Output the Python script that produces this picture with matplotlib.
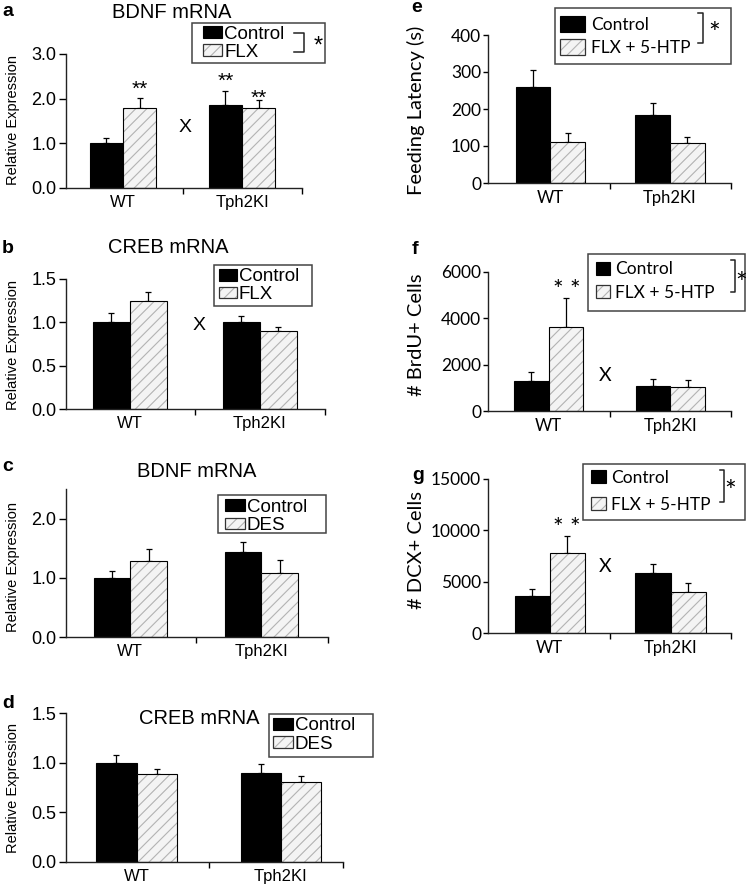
import matplotlib
matplotlib.use('Agg')
import matplotlib.pyplot as plt
import numpy as np
from matplotlib.patches import Patch, Rectangle
from matplotlib.lines import Line2D
from matplotlib.legend_handler import HandlerTuple

W, H = 746, 889
plt.rcParams['hatch.linewidth'] = 0.8
fig = plt.figure(figsize=(W / 100, H / 100), dpi=100)

# ---------------- data ----------------
groups = ['WT', 'Tph2KI']

a_ctrl = [1.00, 1.86]; a_ctrl_err = [0.12, 0.32]
a_trt = [1.80, 1.80]; a_trt_err = [0.21, 0.17]
b_ctrl = [1.00, 1.00]; b_ctrl_err = [0.11, 0.07]
b_trt = [1.25, 0.90]; b_trt_err = [0.10, 0.05]
c_ctrl = [1.00, 1.44]; c_ctrl_err = [0.11, 0.16]
c_trt = [1.28, 1.08]; c_trt_err = [0.20, 0.22]
d_ctrl = [1.00, 0.90]; d_ctrl_err = [0.08, 0.09]
d_trt = [0.89, 0.81]; d_trt_err = [0.05, 0.06]
e_ctrl = [259, 184]; e_ctrl_err = [46, 32]
e_trt = [111, 108]; e_trt_err = [24, 16]
f_ctrl = [1310, 1090]; f_ctrl_err = [370, 310]
f_trt = [3620, 1050]; f_trt_err = [1250, 300]
g_ctrl = [3630, 5810]; g_ctrl_err = [650, 910]
g_trt = [7820, 3960]; g_trt_err = [1660, 880]

flx_labels = ['Control', 'FLX']
des_labels = ['Control', 'DES']
htp_labels = ['Control', 'FLX + 5-HTP']

a_yticks = [0.0, 1.0, 2.0, 3.0]
b_yticks = [0.0, 0.5, 1.0, 1.5]
c_yticks = [0.0, 1.0, 2.0]
d_yticks = [0.0, 0.5, 1.0, 1.5]
e_yticks = [0, 100, 200, 300, 400]
f_yticks = [0, 2000, 4000, 6000]
g_yticks = [0, 5000, 10000, 15000]

LEFT_FONT = 'Liberation Sans'
RIGHT_FONT = 'Lato'


def px(x, y):
    return (x / W, 1 - y / H)


def draw_panel(cfg):
    L, R, T, B = cfg['box']
    ax = fig.add_axes([L / W, 1 - B / H, (R - L) / W, (B - T) / H])
    font = cfg['font']
    w = cfg['w']
    x = np.arange(len(groups))
    ctrl, cerr, trt, terr = cfg['data']
    zeros = np.zeros(len(groups))
    ekw = dict(fmt='none', ecolor='black', elinewidth=0.9, capsize=2.5, capthick=0.9)
    ax.bar(x - w / 2, ctrl, w, color='black', edgecolor='black', lw=0.8, zorder=2)
    ax.errorbar(x - w / 2, ctrl, yerr=[zeros, cerr], zorder=1, **ekw)
    ax.bar(x + w / 2, trt, w, color='#f4f4f4', edgecolor='#b3b3b3', hatch='///', lw=0, zorder=2)
    ax.bar(x + w / 2, trt, w, fill=False, edgecolor='black', lw=0.8, zorder=3)
    ax.errorbar(x + w / 2, trt, yerr=[zeros, terr], zorder=1, **ekw)

    ax.set_xlim(*cfg['xlim'])
    ax.set_ylim(0, cfg['ymax'])
    ax.set_yticks(cfg['yticks'])
    ax.set_yticklabels([cfg['yfmt'].format(v) for v in cfg['yticks']],
                       fontfamily=font, fontsize=cfg['tickfs'])
    ax.set_xticks([0.5, cfg['xlim'][1]])
    ax.set_xticklabels(['', ''])
    ax.set_xticks(x, minor=True)
    ax.set_xticklabels(groups, minor=True, fontfamily=font, fontsize=cfg['xfs'])
    ax.tick_params(axis='x', which='minor', length=0, pad=cfg['xpad'])
    ax.tick_params(axis='x', which='major', length=4, width=1.0, direction='out')
    ax.tick_params(axis='y', length=cfg['ytl'], width=1.0, direction='out', pad=cfg['ypad'])
    for s in ['top', 'right']:
        ax.spines[s].set_visible(False)
    for s in ['left', 'bottom']:
        ax.spines[s].set_linewidth(1.0)
        ax.spines[s].set_color('#222222')

    # y label
    ylx, yly = cfg['ylabel_px']
    ax.set_ylabel(cfg['ylabel'], fontfamily=font, fontsize=cfg['ylfs'])
    ax.yaxis.set_label_coords((ylx - L) / (R - L), (B - yly) / (B - T))
    ax.yaxis.label.set_verticalalignment('center')

    # title
    if cfg.get('title'):
        tx, ty = cfg['title_px']
        ax.set_title(cfg['title'], x=(tx - L) / (R - L), y=(B - ty) / (B - T), pad=0,
                     va='center', fontfamily=font, fontsize=14.5)

    # panel letter
    lx, ly = cfg['letter_px']
    fig.text(*px(lx, ly), cfg['letter'], fontfamily=LEFT_FONT, fontweight='bold',
             fontsize=14, ha='left', va='center')

    # annotations
    for (xa, ya, s, fs) in cfg.get('annot', []):
        ax.text(xa, ya, s, ha='center', va='top', fontfamily=font, fontsize=fs)

    # legend
    lg = cfg['legend']
    fs_px = lg['fs'] * 100 / 72
    h_ctrl = Patch(facecolor='black', edgecolor='black', lw=0.8)
    h_trt = (Patch(facecolor='#f4f4f4', edgecolor='#b3b3b3', hatch='///', lw=0),
             Patch(facecolor='none', edgecolor='#333333', lw=0.9))
    r1, r2 = lg['rows']
    text_h = lg['lh'] * fs_px
    spacing = max(0.02, ((r2 - r1) - max(text_h, lg['hh'])) / fs_px)
    ax.legend([h_ctrl, h_trt], cfg['labels'], loc='center left',
              bbox_to_anchor=px(lg['hx'], (r1 + r2) / 2), bbox_transform=fig.transFigure,
              frameon=False, borderpad=0, borderaxespad=0,
              handlelength=lg['hw'] / fs_px, handleheight=lg['hh'] / fs_px,
              handletextpad=lg['pad'] / fs_px,
              labelspacing=spacing,
              prop=dict(family=font, size=lg['fs']),
              handler_map={tuple: HandlerTuple(ndivide=1, pad=0)})
    bl, br, bt, bb = lg['frame']
    fig.add_artist(Rectangle(px(bl, bb), (br - bl) / W, (bb - bt) / H, transform=fig.transFigure,
                             fill=False, ec='#444444', lw=1.1))
    if lg.get('bracket'):
        bx, by1, by2, bxl, sx, sy = lg['bracket']
        xs = [bxl, bx, bx, bxl]
        ys = [by1, by1, by2, by2]
        fig.add_artist(Line2D([v / W for v in xs], [1 - v / H for v in ys],
                              transform=fig.transFigure, color='#222222', lw=1.1))
        fig.text(*px(sx, sy), '*', fontfamily=font, fontsize=lg.get('starfs', 17),
                 ha='center', va='center')
    return ax


left_common = dict(font=LEFT_FONT, tickfs=13, xfs=12, xpad=5, ytl=5, ypad=2,
                   ylabel='Relative Expression', ylfs=10.5, yfmt='{:.1f}')
right_common = dict(font=RIGHT_FONT, tickfs=12.5, xfs=12, xpad=5, ytl=3.5, ypad=1.5,
                    ylfs=14.5, yfmt='{:d}', labels=htp_labels)

panels = [
    dict(left_common, letter='a', letter_px=(2, 11), box=(66, 302, 54, 188), w=0.28,
         xlim=(-0.479, 1.504), ymax=3.0, yticks=a_yticks,
         data=(a_ctrl, a_ctrl_err, a_trt, a_trt_err), labels=flx_labels,
         title='BDNF mRNA', title_px=(172, 13), ylabel_px=(13, 120),
         annot=[(0.14, 2.42, '**', 15), (0.86, 2.60, '**', 15), (1.14, 2.23, '**', 15),
                (0.52, 1.55, 'X', 14)],
         legend=dict(fs=13.5, lh=0.95, hx=203, rows=(34, 52.5), hw=19, hh=11, pad=2,
                     frame=(192, 325, 23, 63), bracket=(304, 33, 52, 294, 318, 47))),
    dict(left_common, letter='b', letter_px=(2, 248), box=(66, 325, 279, 409), w=0.285,
         xlim=(-0.49, 1.5), ymax=1.5, yticks=b_yticks,
         data=(b_ctrl, b_ctrl_err, b_trt, b_trt_err), labels=flx_labels,
         title='CREB mRNA', title_px=(168, 248), ylabel_px=(13, 345),
         annot=[(0.53, 1.06, 'X', 14)],
         legend=dict(fs=13.5, lh=0.95, hx=219, rows=(276.5, 295), hw=18, hh=11, pad=2,
                     frame=(214, 312, 265, 306))),
    dict(left_common, letter='c', letter_px=(2, 466), box=(66, 328, 489, 637), w=0.28,
         xlim=(-0.49, 1.51), ymax=2.5, yticks=c_yticks,
         data=(c_ctrl, c_ctrl_err, c_trt, c_trt_err), labels=des_labels,
         title='BDNF mRNA', title_px=(197, 472), ylabel_px=(13, 567),
         legend=dict(fs=13.5, lh=0.95, hx=225, rows=(507, 526), hw=20, hh=11, pad=2,
                     frame=(218, 326, 495, 533))),
    dict(left_common, letter='d', letter_px=(2, 703), box=(66, 343, 713, 862), w=0.28,
         xlim=(-0.49, 1.43), ymax=1.5, yticks=d_yticks,
         data=(d_ctrl, d_ctrl_err, d_trt, d_trt_err), labels=des_labels,
         title='CREB mRNA', title_px=(199, 718), ylabel_px=(13, 788),
         legend=dict(fs=13.5, lh=0.95, hx=273, rows=(725.5, 744.5), hw=20, hh=11, pad=2,
                     frame=(269, 373, 714, 757))),
    dict(right_common, letter='e', letter_px=(411, 8), box=(488, 731, 35, 183), w=0.29,
         xlim=(-0.52, 1.51), ymax=400, yticks=e_yticks,
         data=(e_ctrl, e_ctrl_err, e_trt, e_trt_err),
         ylabel='Feeding Latency (s)', ylabel_px=(416, 110),
         legend=dict(fs=12.5, lh=0.95, hx=560, rows=(24, 48), hw=25, hh=18, pad=6,
                     frame=(555, 731, 8, 64), bracket=(703, 13, 43, 698, 714, 35), starfs=20)),
    dict(right_common, letter='f', letter_px=(412, 249), box=(488, 731, 272, 411), w=0.285,
         xlim=(-0.50, 1.50), ymax=6000, yticks=f_yticks,
         data=(f_ctrl, f_ctrl_err, f_trt, f_trt_err),
         ylabel='# BrdU+ Cells', ylabel_px=(416, 335),
         annot=[(0.145, 5700, '* *', 18), (0.46, 1900, 'X', 14)],
         legend=dict(fs=12.5, lh=0.95, hx=596, rows=(269, 293), hw=14, hh=13, pad=5,
                     frame=(588, 745, 254, 311), bracket=(735, 260, 292, 731, 741, 285), starfs=20)),
    dict(right_common, letter='g', letter_px=(412, 475), box=(488, 731, 479, 633), w=0.29,
         xlim=(-0.51, 1.50), ymax=15000, yticks=g_yticks,
         data=(g_ctrl, g_ctrl_err, g_trt, g_trt_err),
         ylabel='# DCX+ Cells', ylabel_px=(416, 550),
         annot=[(0.145, 11300, '* *', 18), (0.46, 7300, 'X', 14)],
         legend=dict(fs=12.5, lh=0.95, hx=591, rows=(477.5, 505), hw=15, hh=13, pad=5,
                     frame=(583, 745, 464, 520), bracket=(724, 470, 502, 720, 730, 493), starfs=20)),
]

for cfg in panels:
    draw_panel(cfg)

fig.savefig('out.png', dpi=100, facecolor='white')
